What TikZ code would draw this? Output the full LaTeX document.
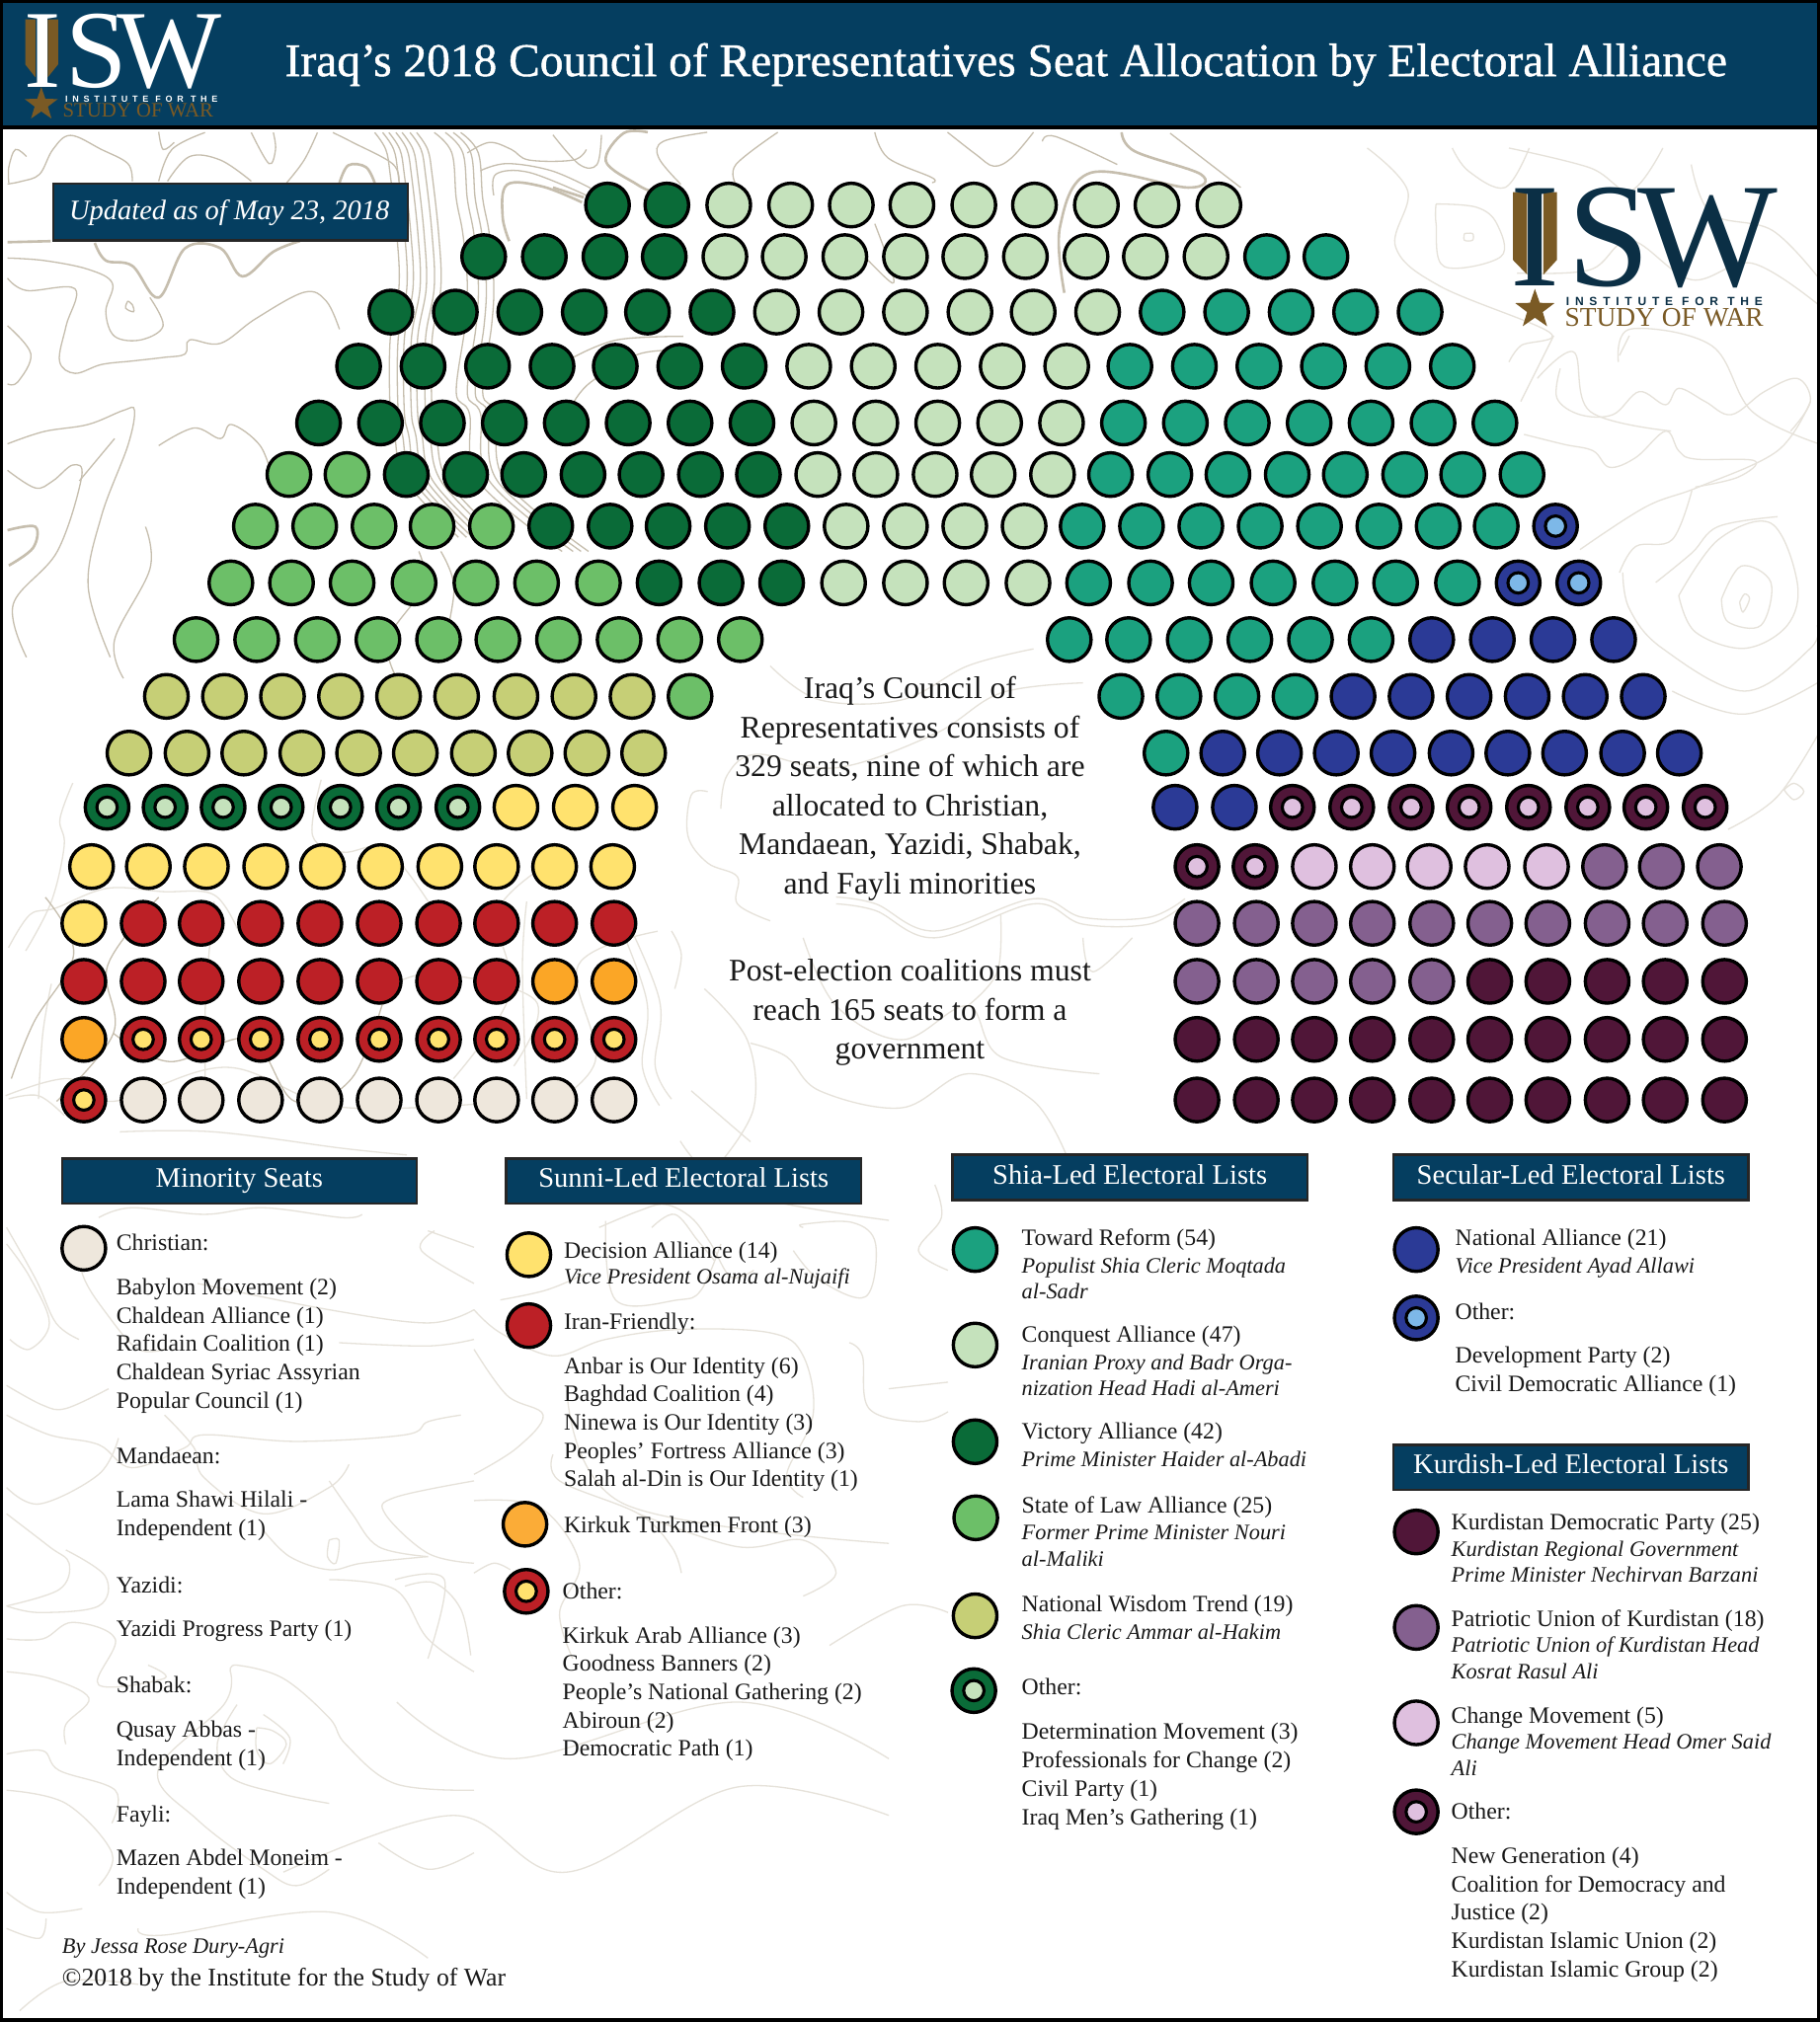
\documentclass[tikz,border=0pt]{standalone}
\usepackage{fontspec}
\usetikzlibrary{shapes.geometric}
\setmainfont{Liberation Serif}
\newfontfamily\titlef[FakeBold=0.9]{Liberation Serif}
\newfontfamily\instf[LetterSpace=52]{Liberation Sans}
\newfontfamily\instg[LetterSpace=48]{Liberation Sans}
\definecolor{hdr}{HTML}{053E60}
\definecolor{cteal}{HTML}{1BA17F}
\definecolor{clight}{HTML}{C5E2BC}
\definecolor{cdark}{HTML}{0A6B38}
\definecolor{cmed}{HTML}{6CBF68}
\definecolor{colive}{HTML}{C6CF76}
\definecolor{cyel}{HTML}{FFE26E}
\definecolor{cred}{HTML}{BC2026}
\definecolor{cora}{HTML}{FBA626}
\definecolor{cbei}{HTML}{EEE7DC}
\definecolor{cnavy}{HTML}{2B3A96}
\definecolor{cblu}{HTML}{7DB8E8}
\definecolor{cplum}{HTML}{501638}
\definecolor{cpur}{HTML}{84608F}
\definecolor{cpink}{HTML}{DFC0DF}
\definecolor{brown}{HTML}{7A5A25}
\definecolor{lnavy}{HTML}{0B2F45}
\definecolor{tanA}{HTML}{C6BEAE}
\definecolor{tanB}{HTML}{E6E2DA}
\tikzset{
  seat/.style={draw=black,line width=2.6pt},
  ctA/.style={draw=tanA,line width=1pt},
  ctAb/.style={draw=tanA,line width=2pt},
  ctB/.style={draw=tanB,line width=1pt},
  lg/.style={font=\fontsize{18.2}{22}\selectfont,anchor=base west,inner sep=0pt,text=black!90},
  lgi/.style={lg,font=\fontsize{17.1}{21}\selectfont\itshape},
  cen/.style={font=\fontsize{24.3}{30}\selectfont,anchor=base,inner sep=0pt,text=black!90},
  head/.style={draw=black!85,line width=1.8pt,fill=hdr,text=white,font=\fontsize{21.9}{26}\selectfont,
     minimum width=275pt,minimum height=35pt,inner sep=0pt,anchor=center,text height=15pt,text depth=5pt},
  lett/.style={anchor=base west,inner sep=0pt},
}
\newcounter{tn}
\newcommand\Lt[3]{\stepcounter{tn}\node[lg] (t\number\value{tn}) at (#1,#2) {#3};}
\newcommand\Li[3]{\stepcounter{tn}\node[lgi] (t\number\value{tn}) at (#1,#2) {#3};}
\newcommand\Ce[2]{\stepcounter{tn}\node[cen] (t\number\value{tn}) at (705.5,#1) {#2};}
\newcommand\Seat[3]{\draw[seat,fill=#3] (#1,#2) circle (16.9);}
\newcommand\SeatO[4]{\draw[seat,fill=#3] (#1,#2) circle (16.9);\draw[seat,line width=2.4pt,fill=#4] (#1,#2) circle (7.9);}
\newcommand\Row[3]{\foreach \xx in {#3} {\Seat{\xx}{#1}{#2}}}
\newcommand\RowO[4]{\foreach \xx in {#4} {\SeatO{\xx}{#1}{#2}{#3}}}
\newcommand\Ct[2]{\draw[#1] plot[smooth,tension=.6] coordinates {#2};}
\begin{document}
\begin{tikzpicture}[x=1pt,y=-1pt]
\useasboundingbox (0,0) rectangle (1411,1568);
\fill[white] (0,0) rectangle (1411,1568);
%% contours, top-left (trace of crop)
\begin{scope}[yshift=-99.5pt,x=.3418pt,y=-.2734pt]
 \Ct{ctA}{(17,158)(50,150)(90,130)(120,60)(160,20)(230,60)(290,100)(300,150)}
 \Ct{ctA}{(60,80)(35,60)(20,110)(20,155)}
 \Ct{ctA}{(360,150)(390,60)(465,12)}
 \Ct{ctA}{(360,10)(370,60)(395,40)}
 \Ct{ctA}{(380,150)(430,80)(500,90)(570,150)}
 \Ct{ctA}{(570,12)(610,100)(625,60)(620,12)}
 \Ct{ctA}{(755,12)(800,40)(890,100)(905,150)}
 \Ct{ctA}{(720,12)(690,90)(650,155)}
 \Ct{ctAb}{(770,155)(790,105)(830,110)(850,155)}
 \Ct{ctAb}{(17,323)(115,320)}
 \Ct{ctAb}{(215,325)(240,375)(300,390)(360,480)(420,340)(500,340)(550,420)(620,350)(680,320)}
 \foreach \d in {-40,-22,-8,8,22,40,55}{
  \begin{scope}[xshift=\d*.3418pt]
  \Ct{ctA}{(890,12)(915,60)(925,130)(940,300)(945,450)(925,600)(925,800)(935,870)(960,1000)(1080,1160)}
  \end{scope}}
 \foreach \d in {-25,0,18,35}{
  \begin{scope}[xshift=\d*.3418pt]
  \Ct{ctA}{(1010,12)(1050,70)(1060,200)(1075,300)(1085,440)(1080,560)(1060,750)(1090,810)(1110,1000)(1300,1200)}
  \end{scope}}
 \Ct{ctAb}{(1320,210)(1230,165)(1150,160)(1140,250)(1155,320)}
 \Ct{ctA}{(1060,70)(1110,40)(1160,60)(1200,90)(1300,90)(1330,60)}
 \Ct{ctA}{(1090,120)(1150,100)(1250,120)(1340,170)}
 \Ct{ctA}{(1120,190)(1125,130)(1200,125)(1330,190)}
 \Ct{ctA}{(17,368)(100,375)(200,400)(255,440)(240,520)(260,590)(320,600)(370,560)(340,480)}
 \Ct{ctA}{(17,425)(60,460)(170,455)(150,560)(135,660)(170,695)(230,670)(300,660)(370,650)(420,640)(430,600)(500,610)(580,540)(690,465)(740,490)(770,570)}
 \Ct{ctA}{(290,490)(285,510)(303,520)(300,500)(290,490)}
 \Ct{ctA}{(17,560)(70,640)(40,720)(17,725)}
 \Ct{ctA}{(17,895)(100,860)(200,840)(280,800)(305,800)(290,900)(230,1100)(200,1300)(250,1500)}
 \Ct{ctA}{(360,900)(440,850)(500,880)(525,840)(590,900)(620,1000)}
 \Ct{ctA}{(17,970)(80,1020)(120,1000)(165,955)(185,990)(130,1200)(30,1350)(60,1500)}
 \Ct{ctAb}{(17,1140)(80,1130)(75,1190)(20,1240)}
 \Ct{ctA}{(260,880)(180,1000)}
 \Ct{ctA}{(330,1130)(340,1250)(260,1450)(280,1560)}
 \Ct{ctA}{(1300,650)(1400,600)(1550,590)}
 \Ct{ctA}{(1300,780)(1340,720)(1450,640)(1560,630)}
 \Ct{ctA}{(1000,1200)(1030,1300)(1010,1450)}
 \Ct{ctA}{(950,1200)(960,1300)(880,1450)(900,1560)}
\end{scope}
%% contours, top-middle
\begin{scope}[xshift=428.7pt,yshift=-99.5pt,x=.3418pt,y=-.2552pt]
 \Ct{ctAb}{(215,12)(160,15)(120,100)(190,170)(220,190)}
 \Ct{ctA}{(350,12)(250,40)(240,90)(290,170)}
 \Ct{ctA}{(510,12)(415,110)(415,170)}
 \Ct{ctA}{(730,12)(760,90)(860,150)(860,165)}
 \Ct{ctA}{(895,12)(960,80)(1000,115)(1040,90)(1090,12)}
 \Ct{ctA}{(1110,40)(1140,25)(1280,110)}
 \Ct{ctAb}{(1290,12)(1320,70)(1470,140)(1440,180)(1220,135)(1150,300)(1160,500)}
 \Ct{ctA}{(1400,15)(1560,180)}
 \Ct{ctAb}{(0,180)(70,210)}
 \Ct{ctA}{(0,20)(60,110)(100,110)(110,20)}
 \Ct{ctA}{(730,290)(760,400)(770,470)(700,380)}
\end{scope}
%% contours, top-right
\begin{scope}[xshift=918.7pt,yshift=-114.8pt,x=.314pt,y=-.2552pt]
 \Ct{ctB}{(450,0)(550,130)(520,300)(630,420)(900,560)(830,600)(800,650)}
 \Ct{ctB}{(620,170)(720,180)(770,230)(780,330)(640,360)(620,230)(620,170)}
 \Ct{ctB}{(690,260)(710,260)(710,280)(690,280)(690,260)}
 \Ct{ctB}{(800,0)(1000,60)(1100,130)(1180,0)}
 \Ct{ctB}{(1250,50)(1300,200)(1450,250)(1568,400)}
 \Ct{ctB}{(820,380)(1000,370)(1100,280)(1250,400)(1400,350)(1568,480)}
 \Ct{ctB}{(1070,650)(1100,550)(1300,600)(1400,800)(1568,900)}
 \Ct{ctB}{(660,0)(700,70)(790,120)(850,0)}
 \Ct{ctB}{(870,700)(960,620)(1000,800)(1200,860)}
\end{scope}
%% contours, right
\begin{scope}[xshift=1148.4pt,yshift=-260.3pt,x=.2552pt,y=-.2552pt]
 \Ct{ctB}{(130,300)(250,330)(340,350)(390,400)(470,370)(560,290)(600,350)(650,375)(830,380)(780,430)(650,460)}
 \Ct{ctB}{(240,100)(230,190)(300,240)(400,240)(480,170)(560,210)(600,160)(680,200)(760,240)(860,170)(960,130)(1000,200)(940,290)}
 \Ct{ctB}{(420,720)(470,640)(580,620)(640,470)}
 \Ct{ctB}{(785,810)(800,785)(815,800)(795,840)(785,810)}
 \Ct{ctB}{(730,800)(790,700)(880,750)(850,880)(750,870)(730,800)}
 \Ct{ctB}{(600,790)(720,620)(880,570)(960,750)(930,880)(800,950)(650,900)(600,790)}
 \Ct{ctB}{(530,750)(640,660)(720,580)(900,550)}
 \Ct{ctB}{(430,720)(450,830)(550,950)(800,1080)(1000,950)(1020,880)}
 \Ct{ctB}{(420,60)(450,0)}
 \Ct{ctB}{(120,200)(170,100)(220,0)}
 \Ct{ctB}{(300,650)(500,520)(660,460)(900,350)(1000,200)}
 \Ct{ctB}{(580,1080)(800,1150)(1030,1050)}
 \Ct{ctB}{(750,1500)(900,1400)(1030,1200)}
 \Ct{ctB}{(920,1380)(950,1360)(980,1385)(950,1410)(920,1380)}
\end{scope}
%% contours, centre
\begin{scope}[xshift=520.6pt,yshift=-490pt,x=.2552pt,y=-.2636pt]
 \Ct{ctB}{(110,470)(60,480)(50,600)(110,680)(200,720)(200,800)(300,850)}
 \Ct{ctB}{(0,880)(30,950)(10,1050)}
 \Ct{ctB}{(500,800)(620,820)(800,900)(1100,800)(1250,860)(1450,860)(1560,800)}
 \Ct{ctB}{(500,780)(620,800)(800,880)(1100,785)(1250,840)(1450,840)(1560,785)}
 \Ct{ctB}{(1000,830)(990,1000)(900,1100)}
 \Ct{ctB}{(1250,900)(1280,1000)(1400,900)}
 \Ct{ctB}{(240,1210)(350,1250)(450,1350)(700,1400)(900,1300)(1100,1380)(1200,1540)}
 \Ct{ctB}{(60,1350)(240,1500)}
 \Ct{ctB}{(150,520)(170,420)(260,360)(500,400)(800,300)(1000,180)(1250,150)}
 \Ct{ctB}{(300,100)(450,200)(700,200)(900,100)(1100,50)}
 \Ct{ctB}{(400,900)(500,1100)(700,1200)(900,1100)(1000,1250)(1300,1300)}
 \Ct{ctB}{(100,1050)(230,1200)(250,1400)(150,1560)}
\end{scope}
%% contours, left between seats
\begin{scope}[yshift=-597pt,x=.332pt,y=-.2552pt]
 \Ct{ctB}{(170,40)(140,150)(150,230)(120,400)(60,550)}
 \Ct{ctB}{(20,540)(70,440)(130,420)(250,360)(380,370)(500,380)(560,500)}
 \Ct{ctB}{(120,650)(100,800)(90,1000)}
 \Ct{ctB}{(20,1000)(90,990)(150,1050)}
 \Ct{ctB}{(280,1100)(500,1100)(800,1150)(950,1170)}
 \Ct{ctB}{(1450,420)(1540,700)(1530,900)(1568,1000)}
 \Ct{ctB}{(1430,420)(1510,700)(1500,900)(1540,1020)}
 \Ct{ctB}{(1230,400)(1220,600)(1230,1000)}
 \Ct{ctB}{(500,400)(480,700)(480,1000)}
 \Ct{ctB}{(750,30)(730,200)(800,250)(900,240)(1000,400)}
 \Ct{ctB}{(860,700)(1000,620)(1250,700)(1200,900)}
\end{scope}
%% contours, legend crops
\begin{scope}[yshift=-918.7pt,x=.2552pt,y=-.2552pt]
 \Ct{ctB}{(20,130)(110,290)(170,420)(240,470)}
 \Ct{ctB}{(300,100)(400,70)(620,90)(800,70)(1040,100)(1100,90)}
 \Ct{ctB}{(240,120)(250,270)(330,400)(420,500)(500,500)}
 \Ct{ctB}{(20,180)(90,280)(150,420)(90,500)(30,470)}
 \Ct{ctB}{(20,610)(130,670)(200,680)(330,620)}
 \Ct{ctB}{(20,700)(150,760)(300,790)(400,860)(560,800)(620,760)(900,780)(1230,760)(1300,720)(1400,700)}
 \Ct{ctB}{(500,700)(590,800)(620,890)(800,1000)(1000,920)(1060,850)}
 \Ct{ctB}{(20,920)(120,970)(300,880)(360,770)}
 \Ct{ctB}{(20,1000)(150,1100)(210,1150)(180,1230)(20,1280)}
 \Ct{ctB}{(1440,900)(1200,950)(1170,1000)(1300,1120)(1440,1150)}
 \Ct{ctB}{(1000,900)(1070,1000)(1150,1100)(1300,1130)}
 \Ct{ctB}{(1300,140)(1440,190)}
 \Ct{ctB}{(600,300)(1000,380)(1300,420)(1440,380)}
 \Ct{ctB}{(1030,480)(1300,490)(1440,470)}
 \Ct{ctB}{(1000,1080)(1030,1080)(1020,1150)(995,1130)(1000,1080)}
 \Ct{ctB}{(800,1050)(880,1130)(1000,1170)(1100,1150)(1300,1130)}
 \Ct{ctB}{(1320,140)(1280,200)(1440,300)}
 \Ct{ctB}{(1200,1200)(1350,1200)(1300,1440)}
\end{scope}
\begin{scope}[xshift=367.5pt,yshift=-918.7pt,x=.2552pt,y=-.2552pt]
 \Ct{ctB}{(380,130)(500,80)(580,60)(660,100)(720,180)(780,280)(850,260)}
 \Ct{ctB}{(540,130)(610,90)(680,170)(730,230)}
 \Ct{ctB}{(400,110)(430,350)(620,350)(690,320)(750,180)}
 \Ct{ctB}{(80,350)(220,320)(340,270)}
 \Ct{ctB}{(1000,130)(1000,120)(1150,115)(1220,180)(1190,340)(1050,290)(970,200)}
 \Ct{ctB}{(0,380)(80,450)(240,520)(400,470)(620,440)(900,450)(1000,520)(1030,700)(950,880)(1000,950)}
 \Ct{ctB}{(0,500)(100,640)(210,700)(130,800)(0,880)}
 \Ct{ctB}{(1140,480)(1180,520)(1200,680)(1350,720)(1440,690)}
 \Ct{ctB}{(1400,0)(1420,100)(1350,200)(1440,260)}
 \Ct{ctB}{(1260,620)(1440,600)}
 \Ct{ctB}{(240,820)(260,900)(500,1000)(600,1100)(630,1180)}
 \Ct{ctB}{(0,1180)(60,1150)(110,1170)}
 \Ct{ctB}{(1080,1400)(1300,1280)(1440,1300)}
 \Ct{ctB}{(500,1000)(800,1100)(1000,1080)(1100,1180)(1000,1250)}
 \Ct{ctB}{(0,960)(200,980)(320,1150)(260,1300)(300,1440)}
\end{scope}
\begin{scope}[yshift=-1194.3pt,x=.2552pt,y=-.2552pt]
 \Ct{ctB}{(20,200)(120,220)(300,200)(320,110)(200,30)}
 \Ct{ctB}{(20,300)(130,300)(220,250)(350,300)(300,440)(500,420)(450,380)}
 \Ct{ctB}{(20,400)(150,420)(270,480)(200,560)(200,620)}
 \Ct{ctB}{(20,650)(130,640)(180,700)(350,760)(340,860)}
 \Ct{ctB}{(20,760)(200,800)(340,950)(300,1050)}
 \Ct{ctB}{(700,400)(720,380)(860,420)(1000,540)(1050,620)(1200,740)(1440,760)}
 \Ct{ctB}{(700,400)(680,500)(480,700)(600,850)(800,1000)(900,1050)(1000,1000)}
 \Ct{ctB}{(720,500)(660,620)(700,720)(850,770)(1000,800)}
 \Ct{ctB}{(780,570)(830,580)(870,620)(820,680)(780,640)(780,570)}
 \Ct{ctB}{(800,530)(880,600)(860,680)}
 \Ct{ctB}{(1150,920)(1300,1000)(1440,950)}
 \Ct{ctB}{(20,1180)(120,1210)(140,1150)}
 \Ct{ctB}{(20,1070)(120,1130)(250,1120)}
 \Ct{ctB}{(420,1180)(500,1200)(1000,1130)(1300,1270)}
 \Ct{ctB}{(1000,120)(1200,150)(1300,300)(1440,400)}
 \Ct{ctB}{(1230,140)(1320,130)(1400,210)(1430,350)}
 \Ct{ctB}{(60,1430)(200,1340)(420,1350)}
\end{scope}
%% contours, bottom-middle and lower right
\begin{scope}[yshift=-880.4pt,x=.4395pt,y=-.4395pt]
 \Ct{ctB}{(500,1300)(800,1200)(1000,1300)(1300,1150)(1568,1200)}
 \Ct{ctB}{(700,1000)(900,1100)(1300,1000)(1568,1100)}
 \Ct{ctB}{(1000,450)(1100,650)(1568,720)}
 \Ct{ctB}{(1200,10)(1300,100)(1568,150)}
 \Ct{ctB}{(10,-70)(120,-100)(200,-60)(400,-120)(600,-50)(900,-60)}
 \Ct{ctA}{(200,-180)(300,-130)(440,-170)(520,-60)(620,-100)(680,-250)}
 \Ct{ctA}{(20,-100)(60,-200)(130,-320)(80,-420)}
 \Ct{ctA}{(100,-60)(200,-180)(190,-300)(280,-420)}
 \Ct{ctB}{(800,-100)(900,-250)(880,-400)(1000,-500)}
 \Ct{ctB}{(950,-40)(1050,-130)(1020,-300)(1160,-360)}
\end{scope}
%% header
\fill[hdr] (0,0) rectangle (1411,98);
\draw[black,line width=3pt] (0,98.5) -- (1411,98.5);
\node[lett,text=white,font=\titlef\fontsize{36.3}{40}\selectfont,anchor=base] (title) at (780,59) {Iraq’s 2018 Council of Representatives Seat Allocation by Electoral Alliance};
% header logo
\fill[brown] (19.6,15) -- (27.5,15) -- (27.5,60) -- (19.6,50) -- cycle;
\fill[brown] (37,15) -- (45,15) -- (45,50) -- (37,60) -- cycle;
\node[lett,text=white,font=\fontsize{86}{90}\selectfont] (i1) at (18.5,67.5) {I};
\node[lett,text=white,font=\fontsize{86}{90}\selectfont] (s1) at (50.5,67.5) {S};
\node[lett,text=white,font=\fontsize{86}{90}\selectfont] (w1) at (90.5,67.5) {W};
\node[star,star points=5,star point ratio=2.5,fill=brown,inner sep=0pt,minimum size=27pt] (st1) at (32,81) {};
\node[lett,text=white,font=\instf\bfseries\fontsize{6.9}{8}\selectfont] (in1) at (50.5,79) {INSTITUTE FOR THE};
\node[lett,text=brown,font=\fontsize{15.9}{16}\selectfont] (sw1) at (48.5,91) {STUDY OF WAR};
% big logo
\fill[brown] (1173,149) -- (1184,149) -- (1184,213) -- (1173,201.6) -- cycle;
\fill[brown] (1196.6,149) -- (1207,149) -- (1207,201.6) -- (1196.6,213) -- cycle;
\node[lett,text=lnavy,font=\fontsize{115}{120}\selectfont] (i2) at (1171,221.5) {I};
\node[lett,text=lnavy,font=\fontsize{115}{120}\selectfont] (s2) at (1215,221.5) {S};
\node[lett,text=lnavy,font=\fontsize{115}{120}\selectfont] (w2) at (1269.5,221.5) {W};
\node[star,star points=5,star point ratio=2.5,fill=brown,inner sep=0pt,minimum size=32pt] (st2) at (1190,240) {};
\node[lett,text=lnavy,font=\instg\bfseries\fontsize{9.2}{10}\selectfont] (in2) at (1214,236.8) {INSTITUTE FOR THE};
\node[lett,text=brown,font=\fontsize{21}{22}\selectfont] (sw2) at (1213,253) {STUDY OF WAR};
% updated box
\node[head,minimum width=275pt,minimum height=44pt,text height=0pt,text depth=0pt,font=\fontsize{21.8}{26}\selectfont\itshape,text=white] (upd) at (178.8,164.5) {\raisebox{-6pt}{\hspace{-2pt}Updated as of May 23, 2018}};
%% seats
\Row{159}{cdark}{471,517}
\Row{159}{clight}{565,613,660,707,755,802,850,897,945}
\Row{199}{cdark}{375,422,469,515}
\Row{199}{clight}{562,608,655,702,748,795,842,888,935}
\Row{199}{cteal}{982,1028}
\Row{242}{cdark}{303,353,403,453,502,552}
\Row{242}{clight}{602,652,702,752,801,851}
\Row{242}{cteal}{901,951,1001,1051,1101}
\Row{284}{cdark}{278,328,378,428,477,527,577}
\Row{284}{clight}{627,677,727,777,827}
\Row{284}{cteal}{876,926,976,1026,1076,1126}
\Row{328}{cdark}{247,295,343,391,439,487,535,583}
\Row{328}{clight}{631,679,727,775,823}
\Row{328}{cteal}{871,919,967,1015,1063,1111,1159}
\Row{368}{cmed}{224,269}
\Row{368}{cdark}{315,361,406,452,497,543,588}
\Row{368}{clight}{634,679,725,770,816}
\Row{368}{cteal}{861,907,952,998,1043,1089,1134,1180}
\Row{408}{cmed}{198,244,290,335,381}
\Row{408}{cdark}{427,473,518,564,610}
\Row{408}{clight}{656,702,748,794}
\Row{408}{cteal}{839,885,931,977,1023,1069,1115,1160}
\RowO{408}{cnavy}{cblu}{1206}
\Row{452}{cmed}{179,226,273,321,369,416,464}
\Row{452}{cdark}{511,559,606}
\Row{452}{clight}{654,702,749,797}
\Row{452}{cteal}{844,892,939,987,1035,1082,1130}
\RowO{452}{cnavy}{cblu}{1177,1224}
\Row{496}{cmed}{152,199,246,293,340,386,433,480,527,574}
\Row{496}{cteal}{829,875,922,969,1016,1063}
\Row{496}{cnavy}{1110,1157,1204,1251}
\Row{540}{colive}{129,174,219,264,309,354,400,445,490}
\Row{540}{cmed}{535}
\Row{540}{cteal}{869,914,959,1004}
\Row{540}{cnavy}{1049,1094,1139,1184,1229,1274}
\Row{584}{colive}{100,145,189,234,278,322,367,411,455,499}
\Row{584}{cteal}{904}
\Row{584}{cnavy}{948,992,1036,1080,1125,1169,1213,1258,1302}
\RowO{626}{cdark}{clight}{83,128,173,218,264,309,355}
\Row{626}{cyel}{400,446,492}
\Row{626}{cnavy}{911,957}
\RowO{626}{cplum}{cpink}{1002,1048,1094,1139,1185,1231,1276,1322}
\Row{672}{cyel}{71,115,160,206,250,295,341,385,430,475}
\RowO{672}{cplum}{cpink}{928,973}
\Row{672}{cpink}{1019,1064,1108,1153,1199}
\Row{672}{cpur}{1244,1288,1333}
\Row{716}{cyel}{65}
\Row{716}{cred}{111,156,202,248,294,340,385,430,476}
\Row{716}{cpur}{928,974,1019,1064,1110,1155,1200,1246,1291,1337}
\Row{761}{cred}{65,111,156,202,248,294,340,385}
\Row{761}{cora}{430,476}
\Row{761}{cpur}{928,974,1019,1064,1110}
\Row{761}{cplum}{1155,1200,1246,1291,1337}
\Row{806}{cora}{65}
\RowO{806}{cred}{cyel}{111,156,202,248,294,340,385,430,476}
\Row{806}{cplum}{928,974,1019,1064,1110,1155,1200,1246,1291,1337}
\RowO{853}{cred}{cyel}{65}
\Row{853}{cbei}{111,156,202,248,294,340,385,430,476}
\Row{853}{cplum}{928,974,1019,1064,1110,1155,1200,1246,1291,1337}
%% centre text
\Ce{542}{Iraq’s Council of}
\Ce{572}{Representatives consists of}
\Ce{602.5}{329 seats, nine of which are}
\Ce{632.5}{allocated to Christian,}
\Ce{663}{Mandaean, Yazidi, Shabak,}
\Ce{693.5}{and Fayli minorities}
\Ce{761}{Post-election coalitions must}
\Ce{791.5}{reach 165 seats to form a}
\Ce{821.5}{government}
%% legend heads
\node[head] (hm) at (185.5,916) {Minority Seats};
\node[head] (hs) at (530,916) {Sunni-Led Electoral Lists};
\node[head] (hh) at (876,913) {Shia-Led Electoral Lists};
\node[head] (hc) at (1218,913) {Secular-Led Electoral Lists};
\node[head] (hk) at (1218,1138) {Kurdish-Led Electoral Lists};
%% minority
\Seat{65}{968}{cbei}
\Lt{90}{970}{Christian:}
\Lt{90}{1004}{Babylon Movement (2)}
\Lt{90}{1026}{Chaldean Alliance (1)}
\Lt{90}{1048}{Rafidain Coalition (1)}
\Lt{90}{1070}{Chaldean Syriac Assyrian}
\Lt{90}{1092}{Popular Council (1)}
\Lt{90}{1135}{Mandaean:}
\Lt{90}{1169}{Lama Shawi Hilali -}
\Lt{90}{1191}{Independent (1)}
\Lt{90}{1235}{Yazidi:}
\Lt{90}{1269}{Yazidi Progress Party (1)}
\Lt{90}{1313}{Shabak:}
\Lt{90}{1347}{Qusay Abbas -}
\Lt{90}{1369}{Independent (1)}
\Lt{90}{1413}{Fayli:}
\Lt{90}{1447}{Mazen Abdel Moneim -}
\Lt{90}{1469}{Independent (1)}
\Li{48}{1515}{By Jessa Rose Dury-Agri}
\stepcounter{tn}\node[lg,font=\fontsize{19.7}{22}\selectfont] (copy) at (48,1540) {©2018 by the Institute for the Study of War};
%% sunni
\Seat{410}{973}{cyel}
\Lt{437}{976}{Decision Alliance (14)}
\Li{437}{996}{Vice President Osama al-Nujaifi}
\Seat{410}{1028}{cred}
\Lt{437}{1031}{Iran-Friendly:}
\Lt{437}{1065}{Anbar is Our Identity (6)}
\Lt{437}{1087}{Baghdad Coalition (4)}
\Lt{437}{1109}{Ninewa is Our Identity (3)}
\Lt{437}{1131}{Peoples’ Fortress Alliance (3)}
\Lt{437}{1153}{Salah al-Din is Our Identity (1)}
\definecolor{cora2}{HTML}{FBAC37}
\Seat{407}{1182}{cora2}
\Lt{437}{1189}{Kirkuk Turkmen Front (3)}
\SeatO{408}{1234}{cred}{cyel}
\Lt{436}{1240}{Other:}
\Lt{436}{1274}{Kirkuk Arab Alliance (3)}
\Lt{436}{1296}{Goodness Banners (2)}
\Lt{436}{1318}{People’s National Gathering (2)}
\Lt{436}{1340}{Abiroun (2)}
\Lt{436}{1362}{Democratic Path (1)}
%% shia
\Seat{756}{969}{cteal}
\Lt{792}{966}{Toward Reform (54)}
\Li{792}{987}{Populist Shia Cleric Moqtada}
\Li{792}{1007}{al-Sadr}
\Seat{756}{1043}{clight}
\Lt{792}{1041}{Conquest Alliance (47)}
\Li{792}{1062}{Iranian Proxy and Badr Orga-}
\Li{792}{1082}{nization Head Hadi al-Ameri}
\Seat{756}{1118}{cdark}
\Lt{792}{1116}{Victory Alliance (42)}
\Li{792}{1137}{Prime Minister Haider al-Abadi}
\Seat{756.5}{1177}{cmed}
\Lt{792}{1173}{State of Law Alliance (25)}
\Li{792}{1194}{Former Prime Minister Nouri}
\Li{792}{1215}{al-Maliki}
\Seat{756}{1253}{colive}
\Lt{792}{1250}{National Wisdom Trend (19)}
\Li{792}{1271}{Shia Cleric Ammar al-Hakim}
\SeatO{755}{1311}{cdark}{clight}
\Lt{792}{1314}{Other:}
\Lt{792}{1349}{Determination Movement (3)}
\Lt{792}{1371}{Professionals for Change (2)}
\Lt{792}{1393}{Civil Party (1)}
\Lt{792}{1415}{Iraq Men’s Gathering (1)}
%% secular
\Seat{1098}{969}{cnavy}
\Lt{1128}{966}{National Alliance (21)}
\Li{1128}{987}{Vice President Ayad Allawi}
\SeatO{1098}{1022}{cnavy}{cblu}
\Lt{1128}{1023}{Other:}
\Lt{1128}{1057}{Development Party (2)}
\Lt{1128}{1079}{Civil Democratic Alliance (1)}
%% kurdish
\Seat{1098}{1188}{cplum}
\Lt{1125}{1186}{Kurdistan Democratic Party (25)}
\Li{1125}{1207}{Kurdistan Regional Government}
\Li{1125}{1227}{Prime Minister Nechirvan Barzani}
\Seat{1098}{1262}{cpur}
\Lt{1125}{1261}{Patriotic Union of Kurdistan (18)}
\Li{1125}{1281}{Patriotic Union of Kurdistan Head}
\Li{1125}{1302}{Kosrat Rasul Ali}
\Seat{1098}{1336}{cpink}
\Lt{1125}{1336}{Change Movement (5)}
\Li{1125}{1356}{Change Movement Head Omer Said}
\Li{1125}{1377}{Ali}
\SeatO{1098}{1405}{cplum}{cpink}
\Lt{1125}{1411}{Other:}
\Lt{1125}{1445}{New Generation (4)}
\Lt{1125}{1467}{Coalition for Democracy and}
\Lt{1125}{1489}{Justice (2)}
\Lt{1125}{1511}{Kurdistan Islamic Union (2)}
\Lt{1125}{1533}{Kurdistan Islamic Group (2)}
%% frame
\draw[black,line width=3pt] (1,1) rectangle (1410,1566.5);
\end{tikzpicture}
\end{document}
